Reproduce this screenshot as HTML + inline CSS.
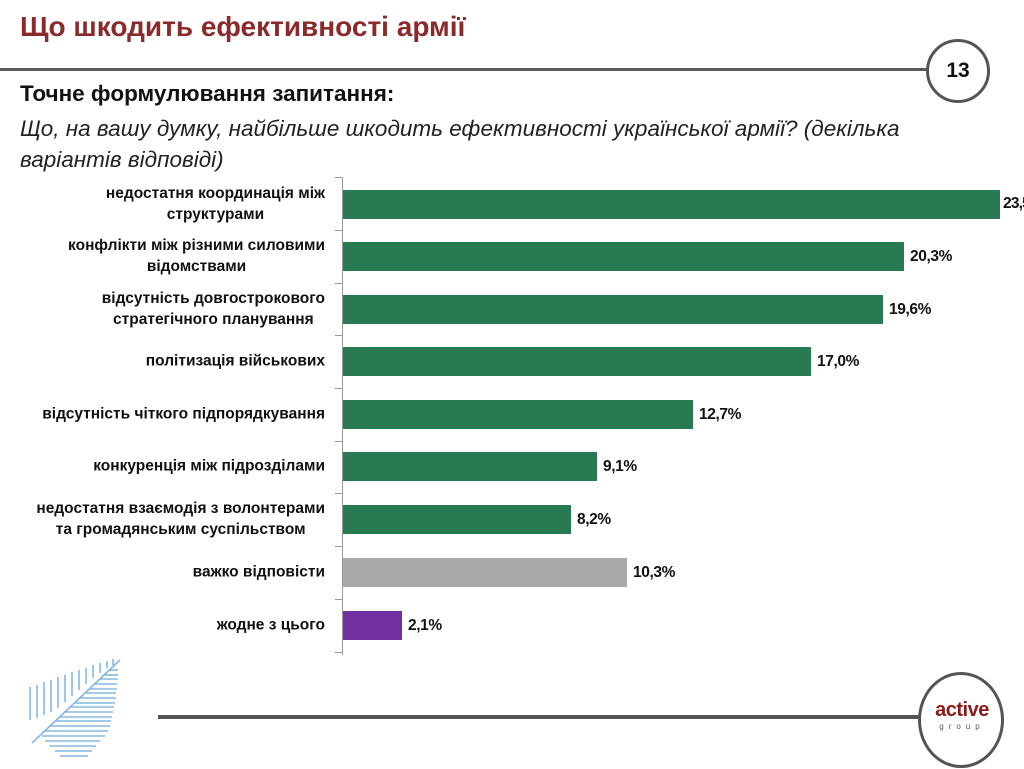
<!DOCTYPE html>
<html><head><meta charset="utf-8"><style>
body{margin:0;width:1024px;height:769px;background:#fff;overflow:hidden;position:relative;font-family:"Liberation Sans",sans-serif}
.a{position:absolute}
.lab{position:absolute;right:699px;text-align:center;font-weight:bold;font-size:15.5px;line-height:21px;color:#111;transform:translateY(-50%);white-space:nowrap}
.bar{position:absolute;left:343px;height:29px;background:#277a52}
.val{position:absolute;font-weight:bold;font-size:15.5px;color:#111;transform:translateY(-50%);letter-spacing:-0.4px}
</style></head><body>
<div class="a" style="left:20px;top:11px;font-size:28px;font-weight:bold;color:#8b2a2a">Що шкодить ефективності армії</div>
<div class="a" style="left:0;top:68px;width:928px;height:3px;background:#5a5a5a"></div>
<div class="a" style="left:926px;top:39px;width:58px;height:58px;border:3px solid #555;border-radius:50%;background:#fff;text-align:center;line-height:58px;font-weight:bold;font-size:21px;color:#111">13</div>
<div class="a" style="left:20px;top:81px;font-size:22.5px;font-weight:bold;color:#111">Точне формулювання запитання:</div>
<div class="a" style="left:20px;top:113px;font-size:22.5px;font-style:italic;color:#222;line-height:31px">Що, на вашу думку, найбільше шкодить ефективності української армії? (декілька<br>варіантів відповіді)</div>
<div class="a" style="left:342px;top:177px;width:1px;height:478px;background:#999"></div>
<svg class="a" style="left:335px;top:0" width="8" height="769"><g stroke="#999"><line x1="0" x2="8" y1="177.5" y2="177.5"/><line x1="0" x2="8" y1="230.5" y2="230.5"/><line x1="0" x2="8" y1="283.5" y2="283.5"/><line x1="0" x2="8" y1="335.5" y2="335.5"/><line x1="0" x2="8" y1="388.5" y2="388.5"/><line x1="0" x2="8" y1="441.5" y2="441.5"/><line x1="0" x2="8" y1="493.5" y2="493.5"/><line x1="0" x2="8" y1="546.5" y2="546.5"/><line x1="0" x2="8" y1="599.5" y2="599.5"/><line x1="0" x2="8" y1="652.5" y2="652.5"/></g></svg>

<div class="lab" style="top:204px">недостатня координація між<br>структурами</div>
<div class="bar" style="top:190px;width:657px"></div><div class="val" style="left:1003px;top:204px;letter-spacing:-0.8px">23,5%</div>
<div class="lab" style="top:256px">конфлікти між різними силовими<br>відомствами</div>
<div class="bar" style="top:242px;width:561px"></div><div class="val" style="left:910px;top:257px">20,3%</div>
<div class="lab" style="top:309px">відсутність довгострокового<br>стратегічного планування</div>
<div class="bar" style="top:295px;width:540px"></div><div class="val" style="left:889px;top:310px">19,6%</div>
<div class="lab" style="top:361px">політизація військових</div>
<div class="bar" style="top:347px;width:468px"></div><div class="val" style="left:817px;top:362px">17,0%</div>
<div class="lab" style="top:414px">відсутність чіткого підпорядкування</div>
<div class="bar" style="top:400px;width:350px"></div><div class="val" style="left:699px;top:415px">12,7%</div>
<div class="lab" style="top:466px">конкуренція між підрозділами</div>
<div class="bar" style="top:452px;width:254px"></div><div class="val" style="left:603px;top:467px">9,1%</div>
<div class="lab" style="top:519px">недостатня взаємодія з волонтерами<br>та громадянським суспільством</div>
<div class="bar" style="top:505px;width:228px"></div><div class="val" style="left:577px;top:520px">8,2%</div>
<div class="lab" style="top:572px">важко відповісти</div>
<div class="bar" style="top:558px;width:284px;background:#a9a9a9"></div><div class="val" style="left:633px;top:573px">10,3%</div>
<div class="lab" style="top:625px">жодне з цього</div>
<div class="bar" style="top:611px;width:59px;background:#7030a0"></div><div class="val" style="left:408px;top:626px">2,1%</div>

<svg class="a" style="left:0;top:640px" width="140" height="129">
<g stroke="#86b7e2" stroke-width="1.6">
<line x1="32" y1="103" x2="120" y2="20"/>
<line x1="30" y1="47" x2="30" y2="80"/><line x1="37" y1="45" x2="37" y2="78"/><line x1="44" y1="42" x2="44" y2="75"/><line x1="51" y1="40" x2="51" y2="72"/><line x1="58" y1="37" x2="58" y2="68"/><line x1="65" y1="35" x2="65" y2="62"/><line x1="72" y1="32" x2="72" y2="56"/><line x1="79" y1="30" x2="79" y2="50"/><line x1="86" y1="28" x2="86" y2="44"/><line x1="93" y1="25" x2="93" y2="38"/><line x1="100" y1="23" x2="100" y2="33"/><line x1="107" y1="21" x2="107" y2="28"/><line x1="113" y1="19" x2="113" y2="25"/>
<line x1="110" y1="30" x2="118" y2="30"/><line x1="105" y1="35" x2="118" y2="35"/><line x1="100" y1="39" x2="118" y2="39"/><line x1="95" y1="44" x2="117" y2="44"/><line x1="90" y1="49" x2="117" y2="49"/><line x1="85" y1="53" x2="116" y2="53"/><line x1="80" y1="58" x2="116" y2="58"/><line x1="75" y1="63" x2="115" y2="63"/><line x1="70" y1="67" x2="114" y2="67"/><line x1="65" y1="72" x2="113" y2="72"/><line x1="60" y1="77" x2="112" y2="77"/><line x1="55" y1="81" x2="111" y2="81"/><line x1="50" y1="86" x2="110" y2="86"/><line x1="45" y1="91" x2="108" y2="91"/><line x1="42" y1="96" x2="105" y2="96"/><line x1="45" y1="101" x2="100" y2="101"/><line x1="50" y1="106" x2="96" y2="106"/><line x1="55" y1="111" x2="92" y2="111"/><line x1="60" y1="116" x2="88" y2="116"/>
</g></svg>
<div class="a" style="left:158px;top:715px;width:765px;height:4px;background:#555"></div>
<div class="a" style="left:918px;top:672px;width:80px;height:90px;border:3px solid #555;border-radius:50%;background:#fff"></div>
<div class="a" style="left:920px;top:699px;width:84px;text-align:center;font-weight:bold;font-size:20px;color:#8b1a1a;letter-spacing:-0.5px">active</div>
<div class="a" style="left:920px;top:722px;width:84px;text-align:center;font-size:8px;color:#555;letter-spacing:5px">group</div>
</body></html>
